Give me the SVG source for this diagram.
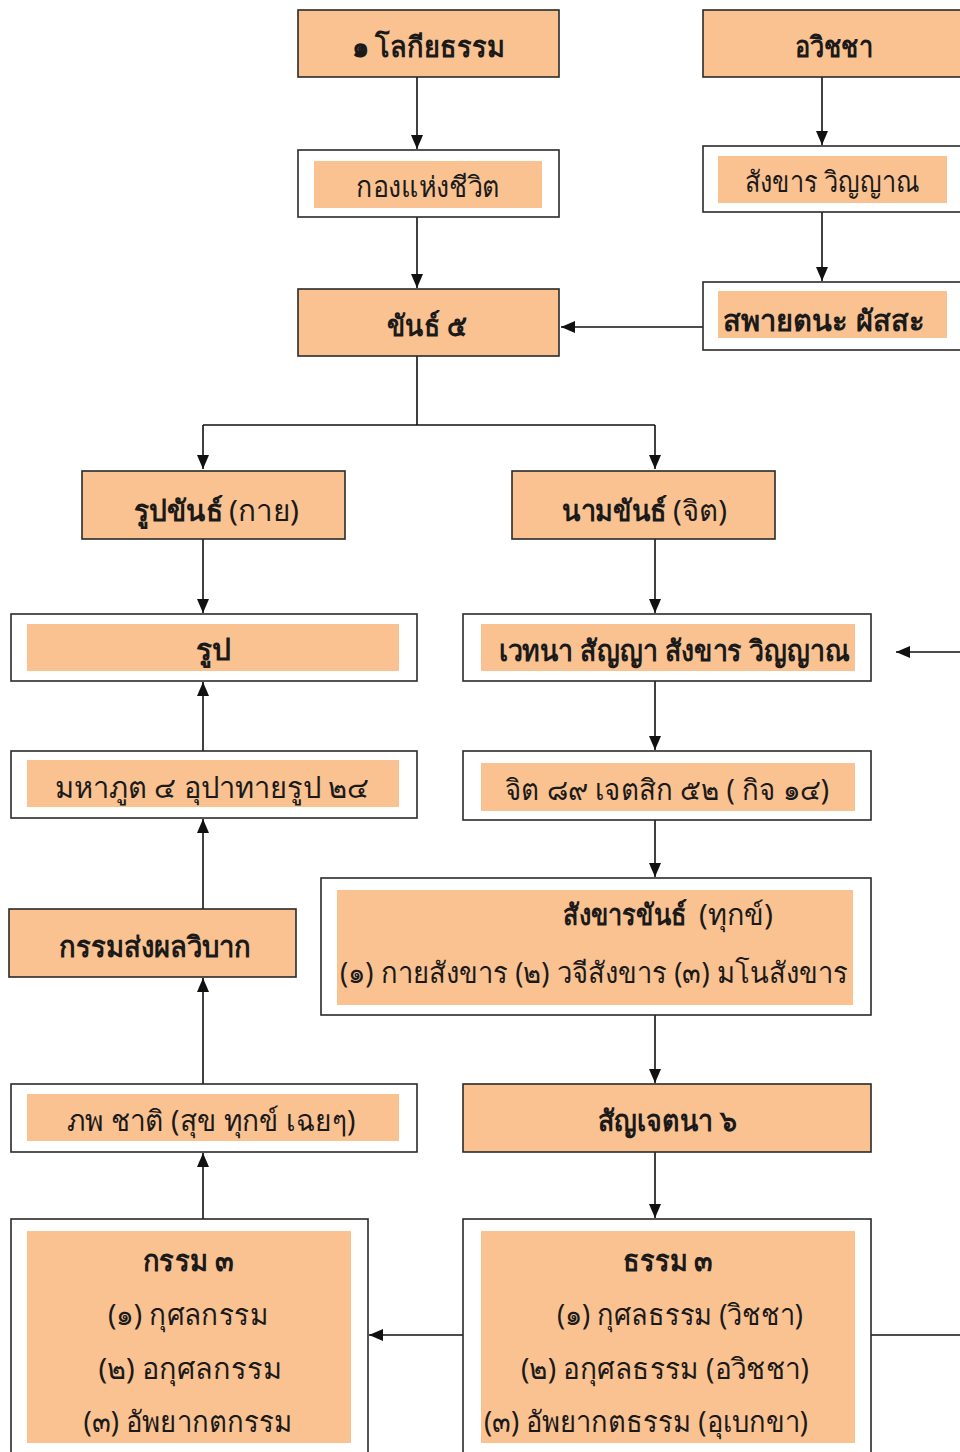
<svg xmlns="http://www.w3.org/2000/svg" width="960" height="1452" viewBox="0 0 960 1452">
<style>
.bg{fill:#ffffff}
.fill{fill:#fac291;stroke:#2a2a2a;stroke-width:1.6}
.frame{fill:#ffffff;stroke:#2a2a2a;stroke-width:1.6}
.inner{fill:#fac291;stroke:none}
.t{font-family:"Noto Sans","DejaVu Sans",sans-serif;font-size:29px;fill:#1a1a1a;text-anchor:middle}
.s{text-anchor:start}
.b{font-weight:bold}
.c{fill:none;stroke:#111;stroke-width:1.6}
</style>
<defs>
<marker id="ah" markerWidth="14" markerHeight="12" refX="14" refY="6" orient="auto" markerUnits="userSpaceOnUse">
<path d="M0,0 L14,6 L0,12 z" fill="#111"/>
</marker>
</defs>
<rect class="bg" x="0" y="0" width="960" height="1452"/>

<g id="connectors">
<path class="c" d="M417,77 V149" marker-end="url(#ah)"/>
<path class="c" d="M417,217 V288" marker-end="url(#ah)"/>
<path class="c" d="M822,77 V145" marker-end="url(#ah)"/>
<path class="c" d="M822,212 V281" marker-end="url(#ah)"/>
<path class="c" d="M703,327 H561" marker-end="url(#ah)"/>
<path class="c" d="M417,356 V425 M203,425 H655"/>
<path class="c" d="M203,425 V469" marker-end="url(#ah)"/>
<path class="c" d="M655,425 V469" marker-end="url(#ah)"/>
<path class="c" d="M203,539 V613" marker-end="url(#ah)"/>
<path class="c" d="M655,539 V613" marker-end="url(#ah)"/>
<path class="c" d="M960,652 H896" marker-end="url(#ah)"/>
<path class="c" d="M655,681 V750" marker-end="url(#ah)"/>
<path class="c" d="M655,820 V877" marker-end="url(#ah)"/>
<path class="c" d="M655,1015 V1083" marker-end="url(#ah)"/>
<path class="c" d="M655,1152 V1218" marker-end="url(#ah)"/>
<path class="c" d="M203,751 V682" marker-end="url(#ah)"/>
<path class="c" d="M203,909 V819" marker-end="url(#ah)"/>
<path class="c" d="M203,1084 V978" marker-end="url(#ah)"/>
<path class="c" d="M203,1219 V1153" marker-end="url(#ah)"/>
<path class="c" d="M463,1335 H369" marker-end="url(#ah)"/>
<path class="c" d="M871,1335 H960"/>
</g>

<g id="n-lokiya">
<rect class="fill" x="298" y="10" width="261" height="67"/>
<text class="t b" x="428" y="57" textLength="153" lengthAdjust="spacingAndGlyphs">๑ โลกียธรรม</text>
</g>
<g id="n-avijja">
<rect class="fill" x="703" y="10" width="270" height="67"/>
<text class="t b" x="834" y="57" textLength="78" lengthAdjust="spacingAndGlyphs">อวิชชา</text>
</g>
<g id="n-kong">
<rect class="frame" x="298" y="150" width="261" height="67"/>
<rect class="inner" x="314" y="161" width="228" height="47"/>
<text class="t" x="428" y="197" textLength="144" lengthAdjust="spacingAndGlyphs">กองแห่งชีวิต</text>
</g>
<g id="n-sankhara-vinyana">
<rect class="frame" x="703" y="146" width="270" height="66"/>
<rect class="inner" x="718" y="156" width="229" height="47"/>
<text class="t" x="832" y="192" textLength="175" lengthAdjust="spacingAndGlyphs">สังขาร วิญญาณ</text>
</g>
<g id="n-khandha5">
<rect class="fill" x="298" y="289" width="261" height="67"/>
<text class="t b" x="427" y="336" textLength="80" lengthAdjust="spacingAndGlyphs">ขันธ์ ๕</text>
</g>
<g id="n-salayatana">
<rect class="frame" x="703" y="282" width="270" height="68"/>
<rect class="inner" x="718" y="291" width="229" height="47"/>
<text class="t b" x="824" y="331" textLength="202" lengthAdjust="spacingAndGlyphs">สพายตนะ ผัสสะ</text>
</g>
<g id="n-rupakhandha">
<rect class="fill" x="82" y="471" width="263" height="68"/>
<text class="t s b" x="134" y="521" textLength="89" lengthAdjust="spacingAndGlyphs">รูปขันธ์</text>
<text class="t s" x="229" y="521" textLength="70" lengthAdjust="spacingAndGlyphs">(กาย)</text>
</g>
<g id="n-namakhandha">
<rect class="fill" x="512" y="471" width="263" height="68"/>
<text class="t s b" x="562" y="521" textLength="105" lengthAdjust="spacingAndGlyphs">นามขันธ์</text>
<text class="t s" x="673" y="521" textLength="54" lengthAdjust="spacingAndGlyphs">(จิต)</text>
</g>
<g id="n-rupa">
<rect class="frame" x="11" y="614" width="406" height="67"/>
<rect class="inner" x="27" y="624" width="372" height="47"/>
<text class="t b" x="213" y="660" textLength="35" lengthAdjust="spacingAndGlyphs">รูป</text>
</g>
<g id="n-vedana">
<rect class="frame" x="463" y="614" width="408" height="67"/>
<rect class="inner" x="481" y="624" width="374" height="47"/>
<text class="t b" x="674" y="661" textLength="351" lengthAdjust="spacingAndGlyphs">เวทนา  สัญญา สังขาร วิญญาณ</text>
</g>
<g id="n-mahabhuta">
<rect class="frame" x="11" y="751" width="406" height="67"/>
<rect class="inner" x="27" y="760" width="372" height="47"/>
<text class="t" x="212" y="798" textLength="315" lengthAdjust="spacingAndGlyphs">มหาภูต ๔  อุปาทายรูป ๒๔</text>
</g>
<g id="n-citta">
<rect class="frame" x="463" y="751" width="408" height="69"/>
<rect class="inner" x="481" y="763" width="374" height="48"/>
<text class="t" x="667" y="800" textLength="324" lengthAdjust="spacingAndGlyphs">จิต ๘๙ เจตสิก ๕๒ ( กิจ ๑๔)</text>
</g>
<g id="n-kamma-vipaka">
<rect class="fill" x="9" y="909" width="287" height="68"/>
<text class="t b" x="155" y="957" textLength="193" lengthAdjust="spacingAndGlyphs">กรรมส่งผลวิบาก</text>
</g>
<g id="n-sankharakhandha">
<rect class="frame" x="321" y="878" width="550" height="137"/>
<rect class="inner" x="337" y="890" width="516" height="115"/>
<text class="t s b" x="563" y="925" textLength="124" lengthAdjust="spacingAndGlyphs">สังขารขันธ์</text>
<text class="t s" x="699" y="925" textLength="74" lengthAdjust="spacingAndGlyphs">(ทุกข์)</text>
<text class="t" x="594" y="983" textLength="508" lengthAdjust="spacingAndGlyphs">(๑) กายสังขาร (๒) วจีสังขาร (๓) มโนสังขาร</text>
</g>
<g id="n-bhava">
<rect class="frame" x="11" y="1084" width="406" height="68"/>
<rect class="inner" x="27" y="1094" width="372" height="47"/>
<text class="t" x="211" y="1131" textLength="289" lengthAdjust="spacingAndGlyphs">ภพ ชาติ (สุข  ทุกข์  เฉยๆ)</text>
</g>
<g id="n-sancetana">
<rect class="fill" x="463" y="1084" width="408" height="68"/>
<text class="t b" x="667" y="1131" textLength="139" lengthAdjust="spacingAndGlyphs">สัญเจตนา ๖</text>
</g>
<g id="n-kamma3">
<rect class="frame" x="11" y="1219" width="357" height="250"/>
<rect class="inner" x="27" y="1231" width="324" height="212"/>
<text class="t b" x="188" y="1271" textLength="91" lengthAdjust="spacingAndGlyphs">กรรม ๓</text>
<text class="t" x="188" y="1325" textLength="160" lengthAdjust="spacingAndGlyphs">(๑) กุศลกรรม</text>
<text class="t" x="190" y="1379" textLength="183" lengthAdjust="spacingAndGlyphs">(๒) อกุศลกรรม</text>
<text class="t" x="188" y="1432" textLength="209" lengthAdjust="spacingAndGlyphs">(๓) อัพยากตกรรม</text>
</g>
<g id="n-dhamma3">
<rect class="frame" x="463" y="1219" width="408" height="250"/>
<rect class="inner" x="481" y="1231" width="374" height="212"/>
<text class="t b" x="668" y="1271" textLength="90" lengthAdjust="spacingAndGlyphs">ธรรม ๓</text>
<text class="t" x="680" y="1325" textLength="246" lengthAdjust="spacingAndGlyphs">(๑) กุศลธรรม (วิชชา)</text>
<text class="t" x="665" y="1379" textLength="288" lengthAdjust="spacingAndGlyphs">(๒) อกุศลธรรม (อวิชชา)</text>
<text class="t" x="646" y="1432" textLength="324" lengthAdjust="spacingAndGlyphs">(๓) อัพยากตธรรม (อุเบกขา)</text>
</g>
</svg>
